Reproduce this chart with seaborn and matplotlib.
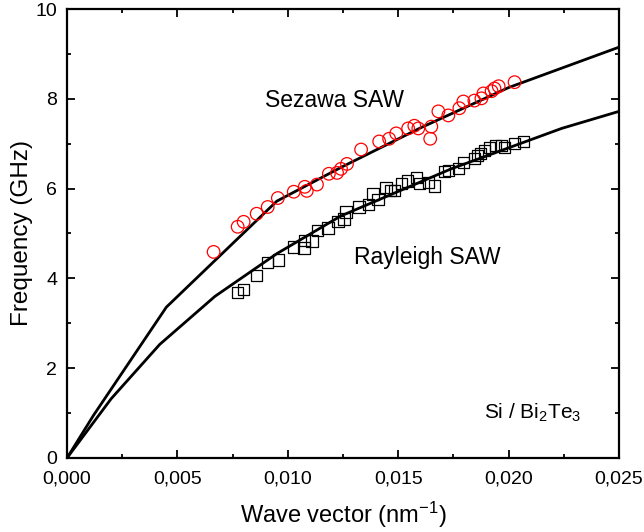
import numpy as np
import pandas as pd
import matplotlib
matplotlib.use("Agg")
import matplotlib.pyplot as plt
from matplotlib.ticker import MultipleLocator, FuncFormatter
import seaborn as sns

# theoretical dispersion curves
sezawa_k = [0, 0.0012, 0.0045, 0.0095, 0.0124, 0.0160, 0.0200, 0.0250]
sezawa_f = [0, 0.95, 3.36, 5.72, 6.47, 7.35, 8.25, 9.15]
rayleigh_k = [0, 0.0020, 0.0042, 0.0067, 0.0095, 0.0124, 0.0174, 0.0224, 0.0250]
rayleigh_f = [0, 1.32, 2.53, 3.60, 4.55, 5.39, 6.44, 7.34, 7.72]

# measured Sezawa mode
sez_k = [0.00664, 0.00773, 0.00800, 0.00859, 0.00909, 0.00955, 0.01027, 0.01077,
         0.01086, 0.01132, 0.01186, 0.01223, 0.01241, 0.01268, 0.01332, 0.01414,
         0.01459, 0.01491, 0.01545, 0.01573, 0.01591, 0.01650, 0.01645, 0.01682,
         0.01727, 0.01777, 0.01795, 0.01845, 0.01877, 0.01886, 0.01923, 0.01936,
         0.01955, 0.02027]
sez_f = [4.59, 5.15, 5.26, 5.44, 5.59, 5.79, 5.93, 6.04,
         5.95, 6.09, 6.33, 6.35, 6.44, 6.55, 6.87, 7.05,
         7.11, 7.23, 7.34, 7.40, 7.34, 7.38, 7.11, 7.72,
         7.63, 7.79, 7.94, 7.96, 8.01, 8.12, 8.17, 8.23,
         8.28, 8.37]

# measured Rayleigh mode
ray_k = [0.00773, 0.00800, 0.00859, 0.00909, 0.00959, 0.01027, 0.01073, 0.01077,
         0.01109, 0.01136, 0.01182, 0.01227, 0.01255, 0.01264, 0.01323, 0.01364,
         0.01386, 0.01409, 0.01445, 0.01464, 0.01482, 0.01514, 0.01541, 0.01582,
         0.01595, 0.01636, 0.01664, 0.01709, 0.01727, 0.01773, 0.01795, 0.01845,
         0.01859, 0.01873, 0.01891, 0.01914, 0.01941, 0.01968, 0.01982, 0.02027,
         0.02068]
ray_f = [3.69, 3.76, 4.07, 4.36, 4.41, 4.70, 4.68, 4.85,
         4.83, 5.06, 5.12, 5.26, 5.32, 5.48, 5.59, 5.64,
         5.88, 5.75, 6.02, 5.95, 5.95, 6.11, 6.17, 6.24,
         6.11, 6.13, 6.06, 6.38, 6.40, 6.44, 6.58, 6.67,
         6.73, 6.78, 6.85, 6.91, 6.96, 6.96, 6.91, 7.00,
         7.05]

sns.set_style("ticks")
plt.rcParams['font.family'] = ['Liberation Sans', 'DejaVu Sans']
plt.rcParams['mathtext.fontset'] = 'custom'
plt.rcParams['mathtext.rm'] = 'Liberation Sans'
plt.rcParams['mathtext.it'] = 'Liberation Sans'
plt.rcParams['text.color'] = 'black'
plt.rcParams['axes.labelcolor'] = 'black'

fig = plt.figure(figsize=(6.44, 5.32), dpi=100)
ax = fig.add_axes([67 / 644, 74 / 532, 552 / 644, 449 / 532])

sns.lineplot(x=sezawa_k, y=sezawa_f, ax=ax, color='black', lw=2.0, sort=False)
sns.lineplot(x=rayleigh_k, y=rayleigh_f, ax=ax, color='black', lw=2.0, sort=False)

sns.scatterplot(x=sez_k, y=sez_f, ax=ax, marker='o', s=82,
                facecolors='none', edgecolor='red', linewidth=0.9, zorder=3)
sns.scatterplot(x=ray_k, y=ray_f, ax=ax, marker='s', s=66,
                facecolors='none', edgecolor='black', linewidth=0.9, zorder=3)

ax.set_xlim(0, 0.025)
ax.set_ylim(0, 10)
ax.xaxis.set_major_locator(MultipleLocator(0.005))
ax.xaxis.set_minor_locator(MultipleLocator(0.0025))
ax.yaxis.set_major_locator(MultipleLocator(2))
ax.yaxis.set_minor_locator(MultipleLocator(1))
ax.xaxis.set_major_formatter(FuncFormatter(lambda v, p: f"{v:.3f}".replace('.', ',')))
ax.yaxis.set_major_formatter(FuncFormatter(lambda v, p: f"{v:.0f}"))

ax.tick_params(which='both', direction='in', top=True, right=True, width=1.3,
               labelsize=14, colors='black')
ax.tick_params(which='major', length=6)
ax.tick_params(axis='x', which='major', pad=9)
ax.tick_params(axis='y', which='major', pad=7)
ax.tick_params(which='minor', length=3)
for sp in ax.spines.values():
    sp.set_linewidth(1.6)
    sp.set_color('black')

ax.set_xlabel('Wave vector (nm$^{-1}$)', fontsize=17, labelpad=9)
ax.set_ylabel('Frequency (GHz)', fontsize=17.5, labelpad=2)

ax.text(0.0121, 7.96, 'Sezawa SAW', fontsize=16.5, ha='center', va='center')
ax.text(0.0163, 4.47, 'Rayleigh SAW', fontsize=16.5, ha='center', va='center')
ax.text(0.0211, 1.0, 'Si / Bi$_2$Te$_3$', fontsize=15, ha='center', va='center')

fig.savefig('out.png', dpi=100)
